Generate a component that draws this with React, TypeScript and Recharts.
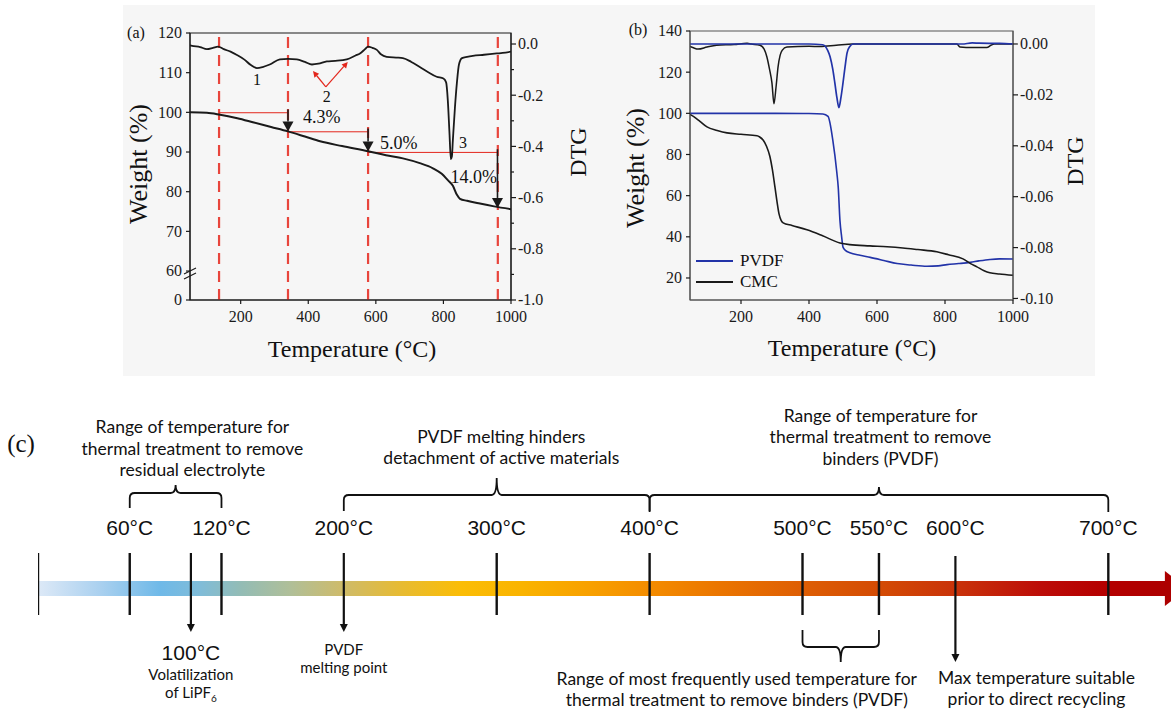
import React from "react";
import {
  ComposedChart,
  Line,
  Scatter,
  XAxis,
  YAxis,
  ReferenceLine,
  ReferenceArea,
  ReferenceDot,
  Legend,
} from "recharts";

const SERIF = '"Liberation Serif", "Times New Roman", serif';
const SANS = 'Lato, "Noto Sans", sans-serif';
const NUM = '"Liberation Sans", Arial, sans-serif';
const INK = "#1a1a1a";
const BLUE = "#2233a8";
const RED = "#e3261c";

// shared temperature axis of (a) and (b)
const tempTicks = [200, 400, 600, 800, 1000];

// (a) weight (%) and DTG of the electrode scrap, [°C, value]
const aWeight: [number, number][] = [
  [50, 100], [100, 99.9], [139, 99.4], [190, 98.5], [236, 97.5], [290, 96.3],
  [340, 95.2], [390, 93.9], [435, 92.7], [500, 91.5], [577, 90.2], [630, 89.2],
  [680, 88.4], [730, 87.2], [769, 85.9], [795, 84.5], [813, 82.9], [828, 81.5],
  [840, 79.2], [849, 78.2], [870, 77.7], [908, 77.0], [950, 76.3], [1000, 75.6],
];
const aDtg: [number, number][] = [
  [50, -0.005], [56, -0.007], [80, -0.012], [100, -0.02], [118, -0.015], [133, -0.01],
  [150, -0.02], [170, -0.03], [189, -0.043], [210, -0.06], [230, -0.082], [248, -0.094],
  [265, -0.09], [286, -0.08], [316, -0.06], [340, -0.058], [366, -0.06], [390, -0.07],
  [411, -0.08], [430, -0.077], [455, -0.068], [480, -0.066], [514, -0.06], [540, -0.045],
  [553, -0.037], [568, -0.02], [577, -0.01], [590, -0.015], [603, -0.023], [615, -0.04],
  [632, -0.05], [660, -0.053], [680, -0.055], [705, -0.07], [730, -0.09], [755, -0.11],
  [780, -0.128], [800, -0.135], [808, -0.15], [813, -0.22], [818, -0.35], [822, -0.45],
  [825, -0.44], [828, -0.375], [834, -0.25], [840, -0.15], [846, -0.08], [855, -0.055],
  [870, -0.05], [887, -0.046], [920, -0.042], [958, -0.037], [975, -0.035], [1000, -0.03],
];
const aStageLines = [136, 340, 577, 961];
const aWeightTicks = [52.7, 60, 70, 80, 90, 100, 110, 120]; // 52.7 = where the broken axis shows "0"
const aDtgTicks = [0, -0.1, -0.2, -0.3, -0.4, -0.5, -0.6, -0.7, -0.8, -0.9, -1.0];
const aSteps = [
  { from: 136, to: 340, level: 99.9, end: 95.2, label: "4.3%" },
  { from: 340, to: 577, level: 95.1, end: 90.1, label: "5.0%" },
  { from: 577, to: 960, level: 89.9, end: 75.9, label: "14.0%" },
];

// (b) binders alone
const bPvdfWeight: [number, number][] = [
  [50, 100], [200, 100], [300, 100], [400, 99.9], [441, 99.7], [456, 98.5], [470, 87],
  [482, 71], [486, 64], [491, 48], [496, 40], [500, 35], [508, 33.3], [520, 32.3],
  [550, 31], [580, 30], [620, 28.5], [659, 27], [700, 26.3], [747, 25.7], [780, 25.9],
  [806, 26.5], [840, 27], [874, 27.6], [900, 28.3], [932, 29], [960, 29.3], [1000, 29.2],
];
const bCmcWeight: [number, number][] = [
  [50, 99.5], [60, 98.5], [80, 96], [100, 93.4], [130, 91.7], [159, 90.5], [200, 89.8],
  [247, 89.1], [255, 88.5], [265, 87], [275, 84], [285, 79], [292, 73], [300, 64],
  [306, 57], [312, 51], [318, 48], [324, 46.8], [350, 45.5], [394, 43.4], [440, 40.5],
  [491, 37], [520, 36.2], [579, 35.6], [630, 35.2], [676, 34.6], [720, 33.8], [776, 32.7],
  [810, 31.3], [853, 29.3], [875, 27], [894, 25.4], [915, 23.5], [932, 22.5], [960, 21.9],
  [1000, 21.3],
];
const bPvdfDtg: [number, number][] = [
  [50, 0], [200, 0], [300, 0], [400, 0], [440, -0.0003], [447, -0.0008], [455, -0.0025],
  [462, -0.005], [470, -0.01], [476, -0.0153], [482, -0.021], [488, -0.025], [494, -0.021],
  [500, -0.0153], [506, -0.009], [512, -0.0035], [520, -0.001], [530, 0], [700, 0],
  [850, 0], [880, 0.0004], [900, 0.0003], [960, 0.0002], [1000, 0],
];
const bCmcDtg: [number, number][] = [
  [50, -0.001], [60, -0.0015], [74, -0.002], [100, -0.0012], [128, -0.0005], [180, -0.0002],
  [218, 0.0003], [230, 0], [256, -0.0005], [268, -0.002], [276, -0.005], [284, -0.01],
  [291, -0.0153], [297, -0.0235], [303, -0.017], [309, -0.009], [315, -0.0045],
  [321, -0.0025], [335, -0.0012], [400, -0.0009], [432, -0.001], [480, -0.0005], [529, 0],
  [700, 0], [835, 0], [844, -0.0012], [880, -0.0014], [923, -0.0014], [935, -0.0005],
  [945, 0], [1000, 0],
];
const bWeightTicks = [20, 40, 60, 80, 100, 120, 140];
const bDtgTicks = [0, -0.02, -0.04, -0.06, -0.08, -0.1];
const bLegendOrder = ["PVDF", "CMC"];

// (c) timeline, °C
const tlTicks = [0, 60, 120, 300, 400, 500, 550, 700];
const tlArrows = [100, 200, 600];
const tlLabels = [60, 120, 200, 300, 400, 500, 550, 600, 700];

const heatStops = [
  [0, "#dde9f7"], [0.056, "#a9d0ef"], [0.108, "#6fb9e8"], [0.144, "#80bcd8"],
  [0.18, "#93bcb5"], [0.224, "#b0bf98"], [0.268, "#cdbb6c"], [0.322, "#e7bb32"],
  [0.375, "#fbbd06"], [0.428, "#fab400"], [0.49, "#f8a000"], [0.543, "#f48c00"],
  [0.607, "#ea7400"], [0.678, "#de5e04"], [0.749, "#d34a04"], [0.82, "#c8300a"],
  [0.89, "#bc0c08"], [0.944, "#b50000"], [1, "#ad0000"],
];

const toPts = (a: [number, number][]) => a.map(([t, v]) => ({ t, v }));

// ---- little shape helpers
const leftTick = (fmt: (v: number) => string) => (p: any) => (
  <g>
    <line x1={p.x - 4} x2={p.x} y1={p.y} y2={p.y} stroke={INK} strokeWidth={1.2} />
    <text x={p.x - 8} y={p.y} dy="0.34em" textAnchor="end" fontSize={16} fontFamily={SERIF} fill={INK}>
      {fmt(p.payload.value)}
    </text>
  </g>
);

const rightTick = (fmt: (v: number) => string, major: (v: number) => boolean) => (p: any) => {
  const big = major(p.payload.value);
  return (
    <g>
      <line x1={p.x} x2={p.x + (big ? 5 : 3)} y1={p.y} y2={p.y} stroke={INK} strokeWidth={1.2} />
      {big && (
        <text x={p.x + 7} y={p.y} dy="0.34em" fontSize={16} fontFamily={SERIF} fill={INK}>
          {fmt(p.payload.value)}
        </text>
      )}
    </g>
  );
};

const bottomTick = (p: any) => (
  <g>
    <line x1={p.x} x2={p.x} y1={p.y} y2={p.y + 4} stroke={INK} strokeWidth={1.2} />
    <text x={p.x} y={p.y + 17} dy="0.34em" textAnchor="middle" fontSize={16} fontFamily={SERIF} fill={INK}>
      {p.payload.value}
    </text>
  </g>
);

const arrowShape = (color: string, w: number, head: number, half: number) => (p: any) => {
  const { x1, y1, x2, y2 } = p;
  const ang = Math.atan2(y2 - y1, x2 - x1);
  const bx = x2 - head * Math.cos(ang);
  const by = y2 - head * Math.sin(ang);
  const nx = -Math.sin(ang) * half;
  const ny = Math.cos(ang) * half;
  return (
    <g>
      <line x1={x1} y1={y1} x2={bx} y2={by} stroke={color} strokeWidth={w} />
      <polygon points={`${x2},${y2} ${bx + nx},${by + ny} ${bx - nx},${by - ny}`} fill={color} />
    </g>
  );
};

const textShape =
  (lines: React.ReactNode[], size: number, family: string, lh: number, anchor = "middle") =>
  (p: any) => {
    const n = lines.length;
    return (
      <text textAnchor={anchor} fontSize={size} fontFamily={family} fill="#111">
        {lines.map((l, i) => (
          <tspan key={i} x={p.cx} y={p.cy + (i - (n - 1) / 2) * lh} dy="0.35em">
            {l}
          </tspan>
        ))}
      </text>
    );
  };

const braceShape = (tipUp: boolean, tip: number) => (p: any) => {
  const { x, y, width: w, height: h } = p;
  const cx = x + w / 2;
  const r = 5;
  let d: string;
  if (tipUp) {
    const yh = y + tip;
    const yb = y + h;
    d = `M${x},${yb} L${x},${yh + r} Q${x},${yh} ${x + r},${yh} L${cx - r},${yh} Q${cx},${yh} ${cx},${y} Q${cx},${yh} ${cx + r},${yh} L${x + w - r},${yh} Q${x + w},${yh} ${x + w},${yh + r} L${x + w},${yb}`;
  } else {
    const yh = y + h - tip;
    d = `M${x},${y} L${x},${yh - r} Q${x},${yh} ${x + r},${yh} L${cx - r},${yh} Q${cx},${yh} ${cx},${y + h} Q${cx},${yh} ${cx + r},${yh} L${x + w - r},${yh} Q${x + w},${yh} ${x + w},${yh - r} L${x + w},${y}`;
  }
  return <path d={d} fill="none" stroke="#111" strokeWidth={1.8} />;
};

const axisBreak = (p: any) => (
  <g stroke={INK} strokeWidth={1.2}>
    <line x1={p.cx - 6} y1={p.cy + 3} x2={p.cx + 6} y2={p.cy - 3} />
    <line x1={p.cx - 6} y1={p.cy + 8} x2={p.cx + 6} y2={p.cy + 2} />
  </g>
);

const headShape = (p: any) => (
  <polygon
    points={`${p.x},${p.y} ${p.x + 22},${p.y + p.height / 2} ${p.x},${p.y + p.height}`}
    fill="#ad0000"
  />
);

const tickShape = (p: any) => (
  <line x1={p.cx} x2={p.cx} y1={p.cy - 31} y2={p.cy + 31} stroke="#111" strokeWidth={2.4} />
);

const legendBox = (p: any) => {
  const items = (p.payload || [])
    .filter((e: any) => e.type !== "none" && bLegendOrder.includes(e.value))
    .sort((a: any, b: any) => bLegendOrder.indexOf(a.value) - bLegendOrder.indexOf(b.value));
  return (
    <div style={{ fontFamily: SERIF, fontSize: 17, color: "#111" }}>
      {items.map((e: any) => (
        <div key={e.value} style={{ display: "flex", alignItems: "center", height: 21 }}>
          <div style={{ width: 37, height: 0, borderTop: `2px solid ${e.color}`, marginRight: 7 }} />
          <span>{e.value}</span>
        </div>
      ))}
    </div>
  );
};

function Title(props: { x: number; y: number; size: number; rotate?: boolean; family: string; children: React.ReactNode }) {
  return (
    <div
      style={{
        position: "absolute",
        left: props.x,
        top: props.y,
        transform: `translate(-50%, -50%)${props.rotate ? " rotate(-90deg)" : ""}`,
        fontSize: props.size,
        fontFamily: props.family,
        whiteSpace: "nowrap",
        lineHeight: 1,
        color: "#111",
      }}
    >
      {props.children}
    </div>
  );
}

function PanelA() {
  const weight = toPts(aWeight);
  const dtg = toPts(aDtg);
  return (
    <div style={{ position: "absolute", left: 123, top: 5 }}>
      <ComposedChart width={470} height={370} margin={{ top: 28, right: 0, bottom: 45, left: 0 }}>
        <XAxis type="number" dataKey="t" domain={[50, 1000]} ticks={tempTicks} interval={0} allowDataOverflow
          height={30} tickSize={0} tickMargin={0} tickLine={false} tick={bottomTick} axisLine={{ stroke: INK }} />
        <YAxis yAxisId="w" type="number" domain={[52.7, 120]} ticks={aWeightTicks} interval={0} allowDataOverflow
          width={67} tickSize={0} tickMargin={0} tickLine={false} axisLine={{ stroke: INK }}
          tick={leftTick((v) => (v < 55 ? "0" : String(v)))} />
        <YAxis yAxisId="d" orientation="right" type="number" domain={[-1, 0.043]} ticks={aDtgTicks} interval={0}
          allowDataOverflow width={82} tickSize={0} tickMargin={0} tickLine={false} axisLine={{ stroke: INK }}
          tick={rightTick((v) => (v === 0 ? "0.0" : v.toFixed(1)), (v) => Math.round(v * 10) % 2 === 0)} />
        <ReferenceArea yAxisId="w" x1={50} x2={1000} y1={52.7} y2={120} fill="none" stroke={INK} strokeWidth={1.2} />
        {aStageLines.map((t) => (
          <ReferenceLine key={t} yAxisId="w" x={t} stroke="#e8453c" strokeWidth={2.2} strokeDasharray="11 7" />
        ))}
        {aSteps.map((s) => (
          <ReferenceLine key={"h" + s.from} yAxisId="w" segment={[{ x: s.from, y: s.level }, { x: s.to, y: s.level }]}
            stroke={RED} strokeWidth={1} />
        ))}
        <Line yAxisId="d" data={dtg} dataKey="v" type="monotone" stroke={INK} strokeWidth={1.8} dot={false}
          isAnimationActive={false} legendType="none" />
        <Line yAxisId="w" data={weight} dataKey="v" type="monotone" stroke={INK} strokeWidth={2} dot={false}
          isAnimationActive={false} legendType="none" />
        {aSteps.map((s) => (
          <ReferenceLine key={"a" + s.from} yAxisId="w" segment={[{ x: s.to, y: s.level + 0.8 }, { x: s.to, y: s.end }]}
            shape={arrowShape(INK, 1.6, 10, 5.5)} />
        ))}
        <ReferenceLine yAxisId="w" segment={[{ x: 452, y: 106.4 }, { x: 414, y: 110.4 }]} shape={arrowShape(RED, 1.2, 6, 3)} />
        <ReferenceLine yAxisId="w" segment={[{ x: 452, y: 106.4 }, { x: 517, y: 112.7 }]} shape={arrowShape(RED, 1.2, 6, 3)} />
        <ReferenceDot yAxisId="w" x={440} y={98.8} shape={textShape([aSteps[0].label], 18, SERIF, 0)} />
        <ReferenceDot yAxisId="w" x={668} y={92.3} shape={textShape([aSteps[1].label], 18, SERIF, 0)} />
        <ReferenceDot yAxisId="w" x={890} y={83.7} shape={textShape([aSteps[2].label], 18, SERIF, 0)} />
        <ReferenceDot yAxisId="w" x={248} y={108.2} shape={textShape(["1"], 16, SERIF, 0)} />
        <ReferenceDot yAxisId="w" x={455} y={103.9} shape={textShape(["2"], 16, SERIF, 0)} />
        <ReferenceDot yAxisId="w" x={858} y={92.3} shape={textShape(["3"], 16, SERIF, 0)} />
        <ReferenceDot yAxisId="w" x={50} y={60} shape={axisBreak} />
      </ComposedChart>
    </div>
  );
}

function PanelB() {
  return (
    <div style={{ position: "absolute", left: 623, top: 5 }}>
      <ComposedChart width={470} height={370} margin={{ top: 26, right: 0, bottom: 45, left: 0 }}>
        <XAxis type="number" dataKey="t" domain={[50, 1000]} ticks={tempTicks} interval={0} allowDataOverflow
          height={30} tickSize={0} tickMargin={0} tickLine={false} tick={bottomTick} axisLine={{ stroke: "#555" }} />
        <YAxis yAxisId="w" type="number" domain={[9.3, 140]} ticks={bWeightTicks} interval={0} allowDataOverflow
          width={67} tickSize={0} tickMargin={0} tickLine={false} axisLine={{ stroke: "#555" }}
          tick={leftTick((v) => String(v))} />
        <YAxis yAxisId="d" orientation="right" type="number" domain={[-0.1006, 0.0051]} ticks={bDtgTicks} interval={0}
          allowDataOverflow width={80} tickSize={0} tickMargin={0} tickLine={false} axisLine={{ stroke: "#555" }}
          tick={rightTick((v) => (v === 0 ? "0.00" : v.toFixed(2)), () => true)} />
        <ReferenceArea yAxisId="w" x1={50} x2={1000} y1={9.3} y2={140} fill="none" stroke="#555" strokeWidth={1.2} />
        <Line yAxisId="d" data={toPts(bCmcDtg)} dataKey="v" type="monotone" stroke={INK} strokeWidth={1.5}
          dot={false} isAnimationActive={false} legendType="none" />
        <Line yAxisId="d" data={toPts(bPvdfDtg)} dataKey="v" type="monotone" stroke={BLUE} strokeWidth={1.7}
          dot={false} isAnimationActive={false} legendType="none" />
        <Line yAxisId="w" name="PVDF" data={toPts(bPvdfWeight)} dataKey="v" type="monotone" stroke={BLUE}
          strokeWidth={1.6} dot={false} isAnimationActive={false} />
        <Line yAxisId="w" name="CMC" data={toPts(bCmcWeight)} dataKey="v" type="monotone" stroke={INK}
          strokeWidth={1.6} dot={false} isAnimationActive={false} />
        <Legend layout="vertical" align="center" verticalAlign="middle" content={legendBox}
          wrapperStyle={{ left: 73, top: 245, width: 110, height: 42 }} />
      </ComposedChart>
    </div>
  );
}

function PanelC() {
  return (
    <div style={{ position: "absolute", left: 0, top: 380 }}>
      <ComposedChart width={1171} height={329} margin={{ top: 0, right: 0, bottom: 0, left: 38 }}>
        <defs>
          <linearGradient id="heat" x1="0" y1="0" x2="1" y2="0">
            {heatStops.map(([o, c]) => (
              <stop key={String(o)} offset={o as number} stopColor={c as string} />
            ))}
          </linearGradient>
        </defs>
        <XAxis type="number" dataKey="t" domain={[0, 741]} hide allowDataOverflow />
        <YAxis type="number" dataKey="y" domain={[0, 329]} reversed hide allowDataOverflow />
        <ReferenceArea x1={0} x2={738} y1={201} y2={216} fill="url(#heat)" fillOpacity={1} stroke="none" />
        <ReferenceArea x1={737} x2={741} y1={191} y2={226} shape={headShape} />
        <Scatter data={tlTicks.map((t) => ({ t, y: 204 }))} shape={tickShape} isAnimationActive={false} legendType="none" />
        {tlArrows.map((t) => (
          <ReferenceLine key={t} segment={[{ x: t, y: t === 600 ? 176 : 173 }, { x: t, y: t === 600 ? 282 : 252 }]}
            shape={arrowShape("#111", 2.2, 8, 4)} />
        ))}
        {tlLabels.map((t) => (
          <ReferenceDot key={t} x={t} y={148} shape={textShape([`${t}°C`], 21, NUM, 0)} />
        ))}
        <ReferenceArea x1={60} x2={120} y1={105} y2={128} shape={braceShape(true, 8)} />
        <ReferenceArea x1={200} x2={400} y1={98} y2={131} shape={braceShape(true, 17)} />
        <ReferenceArea x1={400} x2={700} y1={107} y2={132} shape={braceShape(true, 8)} />
        <ReferenceArea x1={500} x2={550} y1={250} y2={282} shape={braceShape(false, 15)} />
        <ReferenceDot x={101} y={68.5}
          shape={textShape(["Range of temperature for", "thermal treatment to remove", "residual electrolyte"], 17.5, SANS, 21.5)} />
        <ReferenceDot x={303} y={67}
          shape={textShape(["PVDF melting hinders", "detachment of active materials"], 17.5, SANS, 21)} />
        <ReferenceDot x={551} y={57}
          shape={textShape(["Range of temperature for", "thermal treatment to remove", "binders (PVDF)"], 17.5, SANS, 21.5)} />
        <ReferenceDot x={100} y={273} shape={textShape(["100°C"], 21, NUM, 0)} />
        <ReferenceDot x={100} y={304}
          shape={textShape(["Volatilization", <>of LiPF<tspan fontSize={10} dy={4}>6</tspan></>], 15, SANS, 18)} />
        <ReferenceDot x={200} y={279} shape={textShape(["PVDF", "melting point"], 15, SANS, 18)} />
        <ReferenceDot x={457} y={309.5}
          shape={textShape(["Range of most frequently used temperature for", "thermal treatment to remove binders (PVDF)"], 17.5, SANS, 20.5)} />
        <ReferenceDot x={653} y={308.5}
          shape={textShape(["Max temperature suitable", "prior to direct recycling"], 17.5, SANS, 21)} />
      </ComposedChart>
    </div>
  );
}

export default function App() {
  return (
    <div style={{ position: "absolute", left: 0, top: 0, width: 1171, height: 709, background: "#fff", overflow: "hidden" }}>
      <div style={{ position: "absolute", left: 123, top: 5, width: 972, height: 371, background: "#f6f6f6" }} />
      <PanelA />
      <PanelB />
      <PanelC />
      <Title x={136} y={33} size={16} family={SERIF}>(a)</Title>
      <Title x={139} y={164} size={26} family={SERIF} rotate>Weight (%)</Title>
      <Title x={578} y={152} size={24} family={SERIF} rotate>DTG</Title>
      <Title x={352} y={349} size={24} family={SERIF}>Temperature (°C)</Title>
      <Title x={638} y={30} size={16} family={SERIF}>(b)</Title>
      <Title x={636} y={168} size={26} family={SERIF} rotate>Weight (%)</Title>
      <Title x={1075} y={161} size={24} family={SERIF} rotate>DTG</Title>
      <Title x={852} y={348} size={24} family={SERIF}>Temperature (°C)</Title>
      <Title x={21} y={443} size={25} family={SERIF}>(c)</Title>
    </div>
  );
}
